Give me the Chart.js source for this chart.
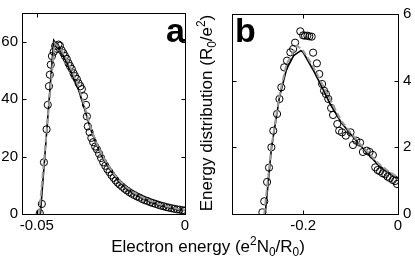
<!DOCTYPE html>
<html>
<head>
<meta charset="utf-8">
<script src="https://cdn.jsdelivr.net/npm/chart.js@4/dist/chart.umd.min.js"></script>
<style>
  body { margin: 0; background: #fff; }
  #wrap { position: relative; width: 415px; height: 263px; font-family: "Liberation Sans", Arial, sans-serif; }
  canvas { position: absolute; left: 0; top: 0; }
  .ttl { position: absolute; font-size: 17px; line-height: 20px; color: #000; white-space: nowrap; text-align: center; }
  .ttl sup, .ttl sub { font-size: 70%; line-height: 0; }
  #xt { left: 58px; top: 237px; width: 300px; }
  #yt { left: 97px; top: 103px; width: 220px; transform: rotate(-90deg); transform-origin: 50% 50%; }
</style>
</head>
<body>
<div id="wrap">
  <canvas id="ca" width="415" height="263"></canvas>
  <canvas id="cb" width="415" height="263"></canvas>
  <div class="ttl" id="xt">Electron energy (e<sup>2</sup>N<sub>0</sub>/R<sub>0</sub>)</div>
  <div class="ttl" id="yt">Energy distribution (R<sub>0</sub>/e<sup>2</sup>)</div>
</div>
<script>
// panel a: measured points
var aCircX = [-0.0490, -0.0483, -0.0476, -0.0467, -0.0463, -0.0459, -0.0456, -0.0453, -0.0449, -0.0443,
    -0.0438, -0.0432, -0.0427, -0.0422, -0.0416,
    -0.0410, -0.0405, -0.0399, -0.0393, -0.0388, -0.0382, -0.0376, -0.0371, -0.0365, -0.0359, -0.0353, -0.0348, -0.0341, -0.0334,
    -0.0331, -0.0328, -0.0322, -0.0316, -0.0310, -0.0303, -0.0297, -0.0290, -0.0283, -0.0276, -0.0269, -0.0262, -0.0255,
    -0.0248, -0.0241, -0.0234, -0.0227, -0.0220, -0.0212, -0.0204, -0.0196, -0.0188, -0.0180, -0.0171, -0.0162, -0.0153,
    -0.0144, -0.0135, -0.0126, -0.0117, -0.0108, -0.0099, -0.0090, -0.0081, -0.0072, -0.0063, -0.0054, -0.0045, -0.0036,
    -0.0027, -0.0018, -0.0009, -0.0002];
var aCircY = [0.3, 3.5, 18, 29.5, 38, 44.5, 48.5, 52, 55, 56.5,
    58.5, 57.5, 59, 58.6, 57,
    56, 55, 54, 52.5, 51.5, 50.5, 49, 48, 47, 45.5, 44.5, 43.5, 41, 38,
    34, 30.5, 28.5, 26.5, 25, 23.5, 22.5, 21, 19.5, 18, 16.8, 15.6, 14.6,
    13.5, 12.6, 11.7, 10.9, 10.2, 9.5, 8.8, 8.2, 7.6, 7.1, 6.6, 6.1, 5.7,
    5.2, 4.8, 4.5, 4.1, 3.8, 3.5, 3.2, 2.9, 2.7, 2.4, 2.2, 2.0, 1.8,
    1.6, 1.5, 1.3, 1.2];
// panel a: theory (solid) and second curve (dashed)
var aLineX = [-0.0488, -0.0443, -0.0420, -0.0400, -0.0380, -0.0360, -0.0340, -0.0320, -0.0300, -0.0280, -0.0260,
    -0.0240, -0.0220, -0.0200, -0.0175, -0.0150, -0.0125, -0.0100, -0.0075, -0.0050, -0.0025, 0];
var aLineY = [0, 60.5, 57, 53, 48.5, 43.5, 37, 30, 24.5, 20, 16.5, 13.5, 11, 9, 7.2, 5.8, 4.6, 3.6, 2.8, 2.2, 1.6, 1.2];
var aDashX = [-0.0492, -0.0440, -0.0420, -0.0400, -0.0380, -0.0360, -0.0340, -0.0320, -0.0300, -0.0280, -0.0260,
    -0.0240, -0.0220, -0.0200, -0.0175, -0.0150, -0.0125, -0.0100, -0.0075, -0.0050, -0.0025, 0];
var aDashY = [0, 59.5, 57.5, 54, 49.5, 44.5, 38, 30.5, 25, 20.5, 17, 14, 11.5, 9.5, 7.6, 6.1, 4.9, 3.9, 3.0, 2.4, 1.8, 1.3];
var aXTicks = [-0.05, 0];
var aYTicks = [0, 20, 40, 60];

// panel b
var bCircX = [-0.286, -0.282, -0.276, -0.272, -0.267, -0.263, -0.255, -0.250, -0.246, -0.240, -0.234, -0.227,
    -0.221, -0.217, -0.206, -0.200, -0.196, -0.191, -0.187, -0.182, -0.179, -0.171, -0.166, -0.160, -0.156,
    -0.152, -0.147, -0.141, -0.137, -0.128, -0.124, -0.118, -0.110, -0.100, -0.095, -0.088, -0.080, -0.074,
    -0.066, -0.060, -0.053, -0.048, -0.043, -0.038, -0.032, -0.027, -0.022, -0.017, -0.011, -0.006, -0.002];
var bCircY = [0.05, 0.38, 0.96, 1.39, 2.0, 2.5, 3.0, 3.45, 3.8, 4.4, 4.6, 4.85,
    4.95, 5.14, 5.48, 5.36, 5.35, 5.35, 5.33, 5.32, 4.84, 4.52, 4.2, 3.9, 3.7,
    3.6, 3.45, 3.18, 2.97, 2.7, 2.5, 2.45, 2.35, 2.45, 2.07, 2.2, 2.14, 1.86,
    1.9, 1.86, 1.77, 1.4, 1.32, 1.28, 1.22, 1.19, 1.12, 1.08, 1.02, 0.99, 0.9];
var bLineX = [-0.280, -0.267, -0.250, -0.235, -0.220, -0.205, -0.200, -0.180, -0.160, -0.143, -0.120, -0.100,
    -0.080, -0.060, -0.040, -0.020, 0];
var bLineY = [0, 1.95, 3.5, 4.35, 4.75, 4.9, 4.85, 4.35, 3.8, 3.3, 2.75, 2.4, 2.07, 1.75, 1.45, 1.25, 1.08];
var bDashX = [-0.282, -0.267, -0.250, -0.235, -0.213, -0.200, -0.180, -0.160, -0.140, -0.120, -0.100, -0.080,
    -0.060, -0.040, -0.020, 0];
var bDashY = [0, 2.0, 3.55, 4.5, 5.05, 4.9, 4.45, 3.9, 3.35, 2.8, 2.45, 2.1, 1.8, 1.5, 1.28, 1.1];
var bXTicks = [-0.2, 0];
var bYTicks = [0, 2, 4, 6];

var FONT = '"Liberation Sans", Arial, sans-serif';

function pts(xs, ys) {
    return xs.map(function(x, i) { return {x: x, y: ys[i]}; });
}

// box around plot + inward tick marks on all four sides + panel letter
var framePlugin = {
    id: 'frame',
    afterDraw: function(chart, args, opts) {
        var ctx = chart.ctx, a = chart.chartArea;
        var sx = chart.scales.x, sy = chart.scales.y;
        var L = Math.round(a.left) + 0.5, R = Math.round(a.right) + 0.5;
        var T = Math.round(a.top) + 0.5, B = Math.round(a.bottom) + 0.5;
        ctx.save();
        ctx.strokeStyle = '#000';
        ctx.lineWidth = 1;
        ctx.strokeRect(L, T, R - L, B - T);
        ctx.beginPath();
        sx.ticks.forEach(function(t) {
            var p = Math.round(sx.getPixelForValue(t.value)) + 0.5;
            ctx.moveTo(p, B); ctx.lineTo(p, B - 4);
            ctx.moveTo(p, T); ctx.lineTo(p, T + 4);
        });
        sy.ticks.forEach(function(t) {
            var p = Math.round(sy.getPixelForValue(t.value)) + 0.5;
            ctx.moveTo(L, p); ctx.lineTo(L + 4, p);
            ctx.moveTo(R, p); ctx.lineTo(R - 4, p);
        });
        ctx.stroke();
        ctx.fillStyle = '#000';
        ctx.font = 'bold 34px ' + FONT;
        ctx.textBaseline = 'alphabetic';
        ctx.fillText(opts.letter, opts.lx, opts.ly);
        ctx.restore();
    }
};

function makeChart(id, d, opt) {
    return new Chart(document.getElementById(id), {
        type: 'scatter',
        data: {
            datasets: [{
                data: pts(d.dx, d.dy),
                showLine: true,
                borderColor: '#9a9a9a',
                borderWidth: 2,
                borderDash: [6, 3],
                pointRadius: 0,
                order: 0
            }, {
                data: pts(d.lx, d.ly),
                showLine: true,
                borderColor: '#000',
                borderWidth: 1.6,
                pointRadius: 0,
                order: 1
            }, {
                data: pts(d.cx, d.cy),
                pointStyle: 'circle',
                pointRadius: 3.6,
                pointBorderWidth: 1,
                pointBorderColor: '#000',
                pointBackgroundColor: 'rgba(0,0,0,0)',
                order: 2
            }]
        },
        options: {
            responsive: false,
            animation: false,
            events: [],
            layout: { padding: opt.pad },
            plugins: {
                legend: { display: false },
                tooltip: { enabled: false },
                frame: { letter: opt.letter, lx: opt.lx, ly: opt.ly }
            },
            scales: {
                x: {
                    type: 'linear',
                    min: opt.xmin, max: opt.xmax,
                    afterBuildTicks: function(s) { s.ticks = opt.xt.map(function(v) { return {value: v}; }); },
                    afterFit: function(s) { s.height = 30; },
                    grid: { display: false, drawTicks: false },
                    border: { display: false },
                    ticks: {
                        color: '#000', font: { family: FONT, size: 15 }, padding: 3,
                        maxRotation: 0, autoSkip: false,
                        callback: function(v) { return String(v); }
                    }
                },
                y: {
                    type: 'linear',
                    position: opt.ypos,
                    min: opt.ymin, max: opt.ymax,
                    afterBuildTicks: function(s) { s.ticks = opt.yt.map(function(v) { return {value: v}; }); },
                    afterFit: function(s) { s.width = opt.yw; },
                    grid: { display: false, drawTicks: false },
                    border: { display: false },
                    ticks: {
                        color: '#000', font: { family: FONT, size: 15 }, padding: opt.ypad,
                        autoSkip: false,
                        callback: function(v) { return String(v); }
                    }
                }
            }
        },
        plugins: [framePlugin]
    });
}

makeChart('ca',
    { cx: aCircX, cy: aCircY, lx: aLineX, ly: aLineY, dx: aDashX, dy: aDashY },
    { pad: { left: 0, right: 230, top: 9, bottom: 19 }, xmin: -0.055, xmax: 0, ymin: 0, ymax: 70,
      xt: aXTicks, yt: aYTicks, ypos: 'left', yw: 22, ypad: 4, letter: 'a', lx: 166, ly: 42 });

makeChart('cb',
    { cx: bCircX, cy: bCircY, lx: bLineX, ly: bLineY, dx: bDashX, dy: bDashY },
    { pad: { left: 232, right: 0, top: 9, bottom: 19 }, xmin: -0.35, xmax: 0, ymin: 0, ymax: 6,
      xt: bXTicks, yt: bYTicks, ypos: 'right', yw: 17, ypad: 5, letter: 'b', lx: 235, ly: 42 });
</script>
</body>
</html>
